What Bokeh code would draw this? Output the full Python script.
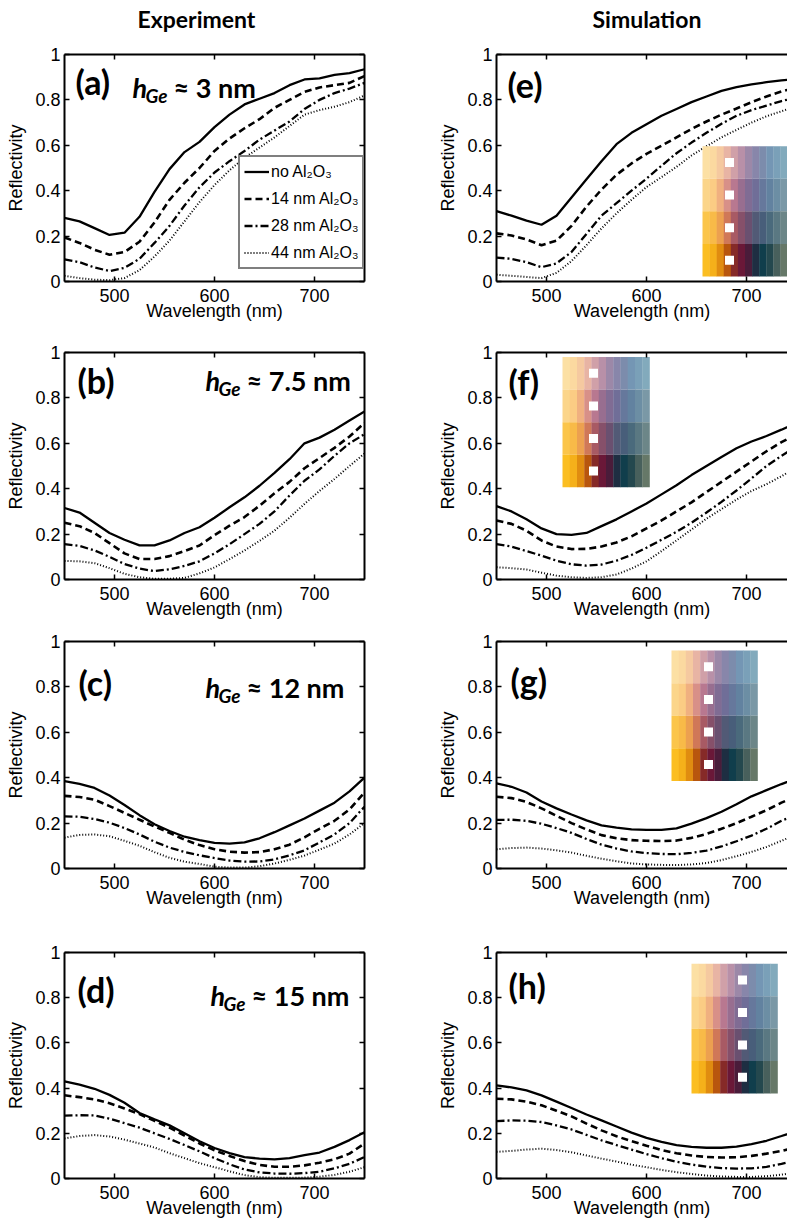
from bokeh.plotting import figure
from bokeh.models import (Label, FixedTicker, CustomJSTickFormatter, Range1d, LinearAxis)
from bokeh.layouts import row, column
from bokeh.embed import file_html
from bokeh.resources import INLINE

# ---------------- data ----------------
wl = [450, 465, 480, 495, 510, 525, 540, 555, 570, 585, 600, 615, 630, 645, 660, 675, 690, 705, 720, 735, 750]

column_titles = ["Experiment", "Simulation"]
series_labels = ["no Al\u2082O\u2083", "14 nm Al\u2082O\u2083", "28 nm Al\u2082O\u2083", "44 nm Al\u2082O\u2083"]

# Experiment (a) h_Ge ~ 3 nm
a_no = [.28, .265, .235, .205, .215, .285, .395, .495, .57, .615, .68, .735, .78, .805, .83, .865, .89, .895, .91, .918, .935]
a_14 = [.194, .17, .14, .118, .13, .175, .26, .36, .435, .50, .575, .63, .675, .715, .765, .80, .835, .855, .865, .875, .905]
a_28 = [.098, .085, .062, .046, .06, .10, .17, .245, .335, .415, .48, .53, .575, .625, .665, .705, .76, .80, .83, .85, .875]
a_44 = [.025, .015, .008, .006, .015, .05, .11, .18, .265, .35, .425, .49, .545, .59, .635, .685, .735, .755, .77, .79, .82]
# Experiment (b) h_Ge ~ 7.5 nm
b_no = [.315, .295, .25, .205, .175, .15, .15, .172, .205, .23, .272, .318, .362, .413, .47, .53, .60, .625, .66, .70, .74]
b_14 = [.25, .235, .205, .16, .115, .09, .09, .103, .125, .15, .195, .237, .275, .325, .38, .43, .49, .535, .58, .63, .69]
b_28 = [.156, .148, .128, .10, .068, .048, .037, .045, .06, .08, .115, .155, .20, .245, .30, .37, .435, .485, .545, .60, .64]
b_44 = [.082, .08, .072, .05, .025, .01, .003, .003, .007, .027, .053, .09, .128, .17, .215, .272, .333, .39, .443, .50, .555]
# Experiment (c) h_Ge ~ 12 nm
c_no = [.385, .373, .355, .322, .28, .235, .195, .165, .14, .125, .113, .11, .115, .133, .16, .19, .22, .255, .29, .34, .40]
c_14 = [.32, .315, .303, .275, .245, .215, .185, .157, .127, .103, .085, .074, .07, .072, .085, .105, .137, .175, .21, .26, .335]
c_28 = [.23, .228, .218, .202, .178, .15, .118, .092, .073, .058, .046, .035, .03, .031, .04, .058, .08, .115, .15, .20, .272]
c_44 = [.136, .148, .15, .142, .122, .10, .072, .047, .03, .02, .008, .004, .004, .01, .022, .038, .057, .083, .11, .15, .20]
# Experiment (d) h_Ge ~ 15 nm
d_no = [.43, .415, .397, .37, .335, .29, .262, .235, .20, .165, .135, .112, .095, .088, .085, .09, .103, .115, .14, .17, .205]
d_14 = [.368, .36, .35, .333, .31, .285, .255, .225, .19, .155, .125, .10, .077, .06, .052, .052, .058, .07, .085, .11, .155]
d_28 = [.278, .28, .279, .265, .245, .225, .20, .175, .148, .12, .09, .063, .04, .027, .022, .021, .024, .03, .045, .065, .095]
d_44 = [.177, .188, .192, .186, .172, .155, .137, .112, .09, .068, .05, .032, .015, .006, .003, .003, .004, .008, .016, .03, .05]
# Simulation (e)
e_no = [.31, .29, .268, .25, .29, .37, .45, .53, .605, .655, .693, .73, .76, .79, .815, .84, .856, .868, .878, .886, .893]
e_14 = [.212, .203, .185, .16, .18, .245, .33, .405, .47, .52, .562, .598, .635, .672, .705, .735, .762, .79, .815, .837, .855]
e_28 = [.105, .10, .085, .063, .08, .13, .21, .29, .345, .40, .453, .51, .565, .612, .655, .695, .73, .755, .775, .795, .81]
e_44 = [.03, .025, .02, .015, .038, .09, .16, .234, .30, .36, .416, .46, .505, .555, .596, .635, .668, .70, .728, .75, .772]
# Simulation (f)
f_no = [.323, .30, .265, .225, .20, .197, .205, .235, .265, .30, .335, .375, .415, .46, .50, .54, .578, .608, .632, .66, .69]
f_14 = [.26, .245, .215, .172, .145, .134, .135, .145, .163, .19, .225, .26, .30, .34, .385, .43, .475, .52, .565, .605, .64]
f_28 = [.156, .145, .125, .105, .083, .067, .061, .066, .083, .108, .14, .175, .21, .25, .295, .342, .392, .445, .50, .545, .585]
f_44 = [.054, .05, .044, .03, .017, .01, .007, .01, .022, .048, .08, .125, .172, .22, .268, .31, .352, .39, .42, .455, .495]
# Simulation (g)
g_no = [.375, .36, .335, .295, .265, .238, .212, .19, .18, .172, .17, .17, .177, .198, .222, .25, .283, .318, .345, .372, .398]
g_14 = [.316, .31, .293, .265, .232, .20, .172, .147, .133, .125, .122, .121, .123, .135, .152, .175, .20, .228, .257, .29, .318]
g_28 = [.214, .215, .21, .197, .178, .157, .13, .105, .088, .075, .068, .064, .063, .069, .079, .097, .12, .145, .175, .21, .237]
g_44 = [.085, .09, .092, .088, .08, .07, .056, .043, .032, .022, .018, .016, .015, .018, .024, .037, .054, .073, .095, .122, .15]
# Simulation (h)
h_no = [.412, .403, .39, .368, .34, .312, .283, .257, .23, .203, .18, .162, .148, .14, .136, .136, .141, .152, .167, .188, .21]
h_14 = [.353, .35, .34, .324, .30, .275, .243, .213, .187, .165, .145, .126, .112, .102, .095, .093, .094, .10, .11, .122, .138]
h_28 = [.254, .257, .256, .25, .235, .217, .193, .169, .148, .128, .108, .09, .074, .062, .052, .046, .044, .045, .051, .065, .082]
h_44 = [.118, .122, .128, .132, .126, .116, .102, .088, .075, .061, .05, .038, .028, .02, .013, .009, .007, .007, .01, .017, .027]

# colour swatch rows (top = palest)
swatch_row1 = ["#FCE0A4", "#FBD9A0", "#F5C9A0", "#E8B4A4", "#D0A0A8", "#B890A8", "#9C88A8", "#8886AA", "#7C8CAC", "#7496B4", "#7AA0B8", "#82AABC"]
swatch_row2 = ["#FBD58A", "#FBCC84", "#F0B080", "#D89088", "#B87890", "#986E90", "#806C94", "#706E98", "#66789C", "#6282A0", "#6C8EA4", "#7A98A6"]
swatch_row3 = ["#FBC54A", "#F8BA48", "#ECA050", "#D07858", "#A85A64", "#86506A", "#6A5070", "#525A76", "#485E7A", "#4A6A7C", "#5A7882", "#6C8688"]
swatch_row4 = ["#FBBE22", "#F5B01A", "#E08C10", "#B8560E", "#862A28", "#6A1838", "#4A1C3A", "#1E2E42", "#103E4C", "#24484E", "#48605C", "#667868"]
swatch_rows = [swatch_row1, swatch_row2, swatch_row3, swatch_row4]

x_ticks = [500, 600, 700]
y_ticks = [0, 0.2, 0.4, 0.6, 0.8, 1]

# ---------------- styling ----------------
LINE_STYLES = [("solid", 2.3), ("7 4", 2.6), ("8 3 2 3", 2.3), ("1 2", 2.0)]
TICK_FONT = "Liberation Sans"
TICK_SIZE = "18px"
LABEL_FONT = "Lato"
TOTAL_W = 787

fmt = CustomJSTickFormatter(code="return String(Math.round(tick*10)/10);")
blank_fmt = CustomJSTickFormatter(code="return '';")


def style_axis(ax, ticks, show_labels=True):
    ax.ticker = FixedTicker(ticks=ticks)
    ax.axis_line_width = 2
    ax.axis_line_color = "black"
    ax.major_tick_in = 5
    ax.major_tick_out = 0
    ax.major_tick_line_width = 1.5
    ax.major_tick_line_color = "black"
    ax.minor_tick_line_color = None
    if show_labels:
        ax.formatter = fmt
        ax.major_label_text_font = TICK_FONT
        ax.major_label_text_font_size = TICK_SIZE
        ax.major_label_text_color = "black"
        ax.axis_label_text_font = TICK_FONT
        ax.axis_label_text_font_size = TICK_SIZE
        ax.axis_label_text_font_style = "normal"
        ax.axis_label_text_color = "black"
    else:
        ax.formatter = blank_fmt
        ax.major_label_text_font_size = "1px"
        ax.major_label_standoff = 0


def make_panel(curves, left_col, ftop, fh, fbot, legend=False):
    if left_col:
        kw = dict(frame_width=300, min_border_left=64, min_border_right=60)
        x_end = 750
    else:
        kw = dict(frame_width=291, min_border_left=72, min_border_right=0)
        x_end = 741
    p = figure(frame_height=fh, min_border_top=ftop, min_border_bottom=fbot,
               x_range=Range1d(450, x_end), y_range=Range1d(0, 1),
               output_backend="svg", toolbar_location=None,
               x_axis_label="Wavelength (nm)", y_axis_label="Reflectivity", **kw)
    p.outline_line_color = None
    p.grid.visible = False
    p.background_fill_color = "white"
    style_axis(p.xaxis[0], x_ticks)
    style_axis(p.yaxis[0], y_ticks)
    p.xaxis[0].major_label_standoff = 7
    p.xaxis[0].axis_label_standoff = -4
    p.yaxis[0].major_label_standoff = 4
    p.yaxis[0].axis_label_standoff = 6
    top_ax = LinearAxis()
    style_axis(top_ax, x_ticks, False)
    p.add_layout(top_ax, "above")
    if left_col:
        right_ax = LinearAxis()
        style_axis(right_ax, y_ticks, False)
        p.add_layout(right_ax, "right")
    for ys, (dash, w), lab in zip(curves, LINE_STYLES, series_labels):
        if legend:
            p.line(wl, ys, line_color="black", line_width=w, line_dash=dash, legend_label=lab)
        else:
            p.line(wl, ys, line_color="black", line_width=w, line_dash=dash)
    if legend:
        lg = p.legend[0]
        lg.location = (174, 12)
        lg.border_line_color = "black"
        lg.border_line_width = 2
        lg.background_fill_alpha = 1
        lg.label_text_font = TICK_FONT
        lg.label_text_font_size = "16px"
        lg.label_text_color = "black"
        lg.glyph_width = 25
        lg.glyph_height = 21
        lg.label_height = 21
        lg.label_standoff = 2
        lg.spacing = 6
        lg.padding = 4
        lg.margin = 0
    return p


def add_panel_label(p, text, x, y):
    p.add_layout(Label(x=x, y=y, text=text, text_font=LABEL_FONT, text_font_size="34px",
                       text_font_style="bold", text_baseline="middle", text_color="black"))


def add_hge(p, rest, hx, base):
    p.add_layout(Label(x=hx, y=base, text="h", text_font=LABEL_FONT, text_font_size="27px",
                       text_font_style="bold italic", text_baseline="alphabetic", text_color="black"))
    p.add_layout(Label(x=hx + 13, y=base, y_offset=-8, text="Ge", text_font=LABEL_FONT,
                       text_font_size="19px", text_font_style="bold italic", text_baseline="alphabetic",
                       text_color="black"))
    p.add_layout(Label(x=hx + 41, y=base, text=rest, text_font=LABEL_FONT, text_font_size="27px",
                       text_font_style="bold", text_baseline="alphabetic", text_color="black"))


def add_swatch(p, x0, x1, y0, y1, sq_x):
    ncol = len(swatch_row1)
    dx = (x1 - x0) / ncol
    dy = (y1 - y0) / 4
    for k, colors in enumerate(swatch_rows):
        top = y1 - k * dy
        p.quad(left=[x0 + i * dx for i in range(ncol)], right=[x0 + (i + 1) * dx + 0.3 for i in range(ncol)],
               bottom=[top - dy] * ncol, top=[top] * ncol, fill_color=colors, line_color=None)
    p.scatter([sq_x] * 4, [y1 - (k + 0.5) * dy for k in range(4)], marker="square", size=9,
              fill_color="white", line_color=None)


# ---- column titles strip ----
TITLE_H = 36
tf = figure(width=TOTAL_W, height=TITLE_H, x_range=Range1d(0, TOTAL_W), y_range=Range1d(0, TITLE_H),
            output_backend="svg", toolbar_location=None, min_border=0,
            x_axis_location=None, y_axis_location=None)
tf.outline_line_color = None
tf.grid.visible = False
for txt, xpos in zip(column_titles, [137, 592]):
    tf.add_layout(Label(x=xpos, y=TITLE_H - 18, text=txt, text_font=LABEL_FONT, text_font_size="23px",
                        text_font_style="bold", text_baseline="middle", text_color="black"))

# rows: (top border, frame height, bottom border)
rows_spec = [(18, 227, 46), (25, 227, 46), (16, 227, 46), (38, 226, 45)]

pa = make_panel([a_no, a_14, a_28, a_44], True, *rows_spec[0], legend=True)
pb = make_panel([b_no, b_14, b_28, b_44], True, *rows_spec[1])
pc = make_panel([c_no, c_14, c_28, c_44], True, *rows_spec[2])
pd = make_panel([d_no, d_14, d_28, d_44], True, *rows_spec[3])
pe = make_panel([e_no, e_14, e_28, e_44], False, *rows_spec[0])
pf = make_panel([f_no, f_14, f_28, f_44], False, *rows_spec[1])
pg = make_panel([g_no, g_14, g_28, g_44], False, *rows_spec[2])
ph = make_panel([h_no, h_14, h_28, h_44], False, *rows_spec[3])

add_panel_label(pa, "(a)", 461, 0.88)
add_panel_label(pb, "(b)", 463, 0.877)
add_panel_label(pc, "(c)", 464, 0.82)
add_panel_label(pd, "(d)", 463, 0.837)
add_panel_label(pe, "(e)", 461, 0.868)
add_panel_label(pf, "(f)", 462, 0.872)
add_panel_label(pg, "(g)", 464, 0.83)
add_panel_label(ph, "(h)", 462, 0.855)

add_hge(pa, "\u2248 3 nm", 518, 0.855)
add_hge(pb, "\u2248 7.5 nm", 591, 0.877)
add_hge(pc, "\u2248 12 nm", 591, 0.797)
add_hge(pd, "\u2248 15 nm", 596, 0.81)

add_swatch(pe, 656, 741, 0.022, 0.596, 683)
add_swatch(pf, 516, 603, 0.406, 0.98, 547)
add_swatch(pg, 625, 711, 0.386, 0.96, 662)
add_swatch(ph, 645, 731, 0.376, 0.95, 696)

layout = column(tf, row(pa, pe), row(pb, pf), row(pc, pg), row(pd, ph))

open("out.html", "w").write(file_html(layout, INLINE))
